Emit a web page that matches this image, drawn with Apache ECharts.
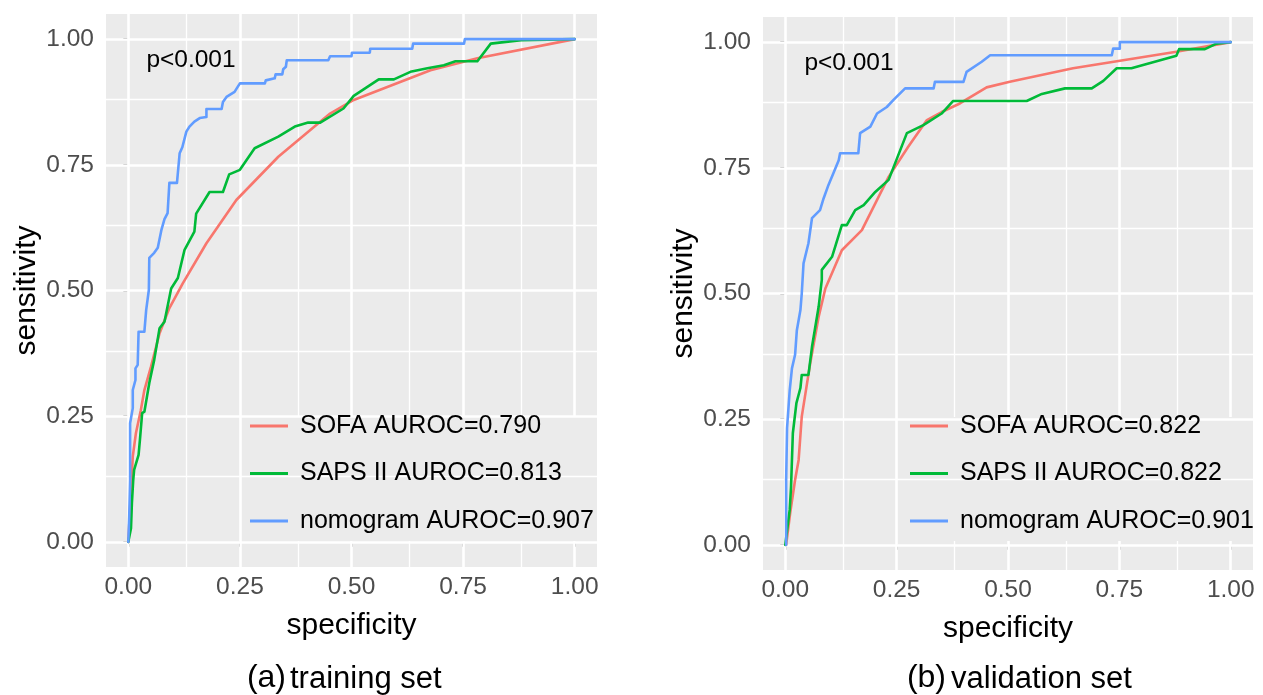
<!DOCTYPE html>
<html>
<head>
<meta charset="utf-8">
<script src="https://cdn.jsdelivr.net/npm/echarts@6/dist/echarts.min.js"></script>
<style>
html,body{margin:0;padding:0;background:#fff;}
#c{width:1263px;height:695px;}
</style>
</head>
<body>
<div id="c"></div>
<script>
// ---------- data ----------
const models = ['SOFA', 'SAPS II', 'nomogram'];
const aurocTrain = ['0.790', '0.813', '0.907'];
const aurocValid = ['0.822', '0.822', '0.901'];
const colors = ['#F8766D', '#00BA38', '#619CFF'];
const tickValues = [0, 0.25, 0.5, 0.75, 1];
const minorValues = [0.125, 0.375, 0.625, 0.875];
const panelCaptions = [['(a)', 'training set'], ['(b)', 'validation set']];
const pText = 'p<0.001';

const sofaTrain = [[0,0],[0.01,0.17],[0.017,0.216],[0.028,0.262],[0.036,0.302],[0.051,0.349],[0.07,0.415],[0.092,0.465],[0.122,0.514],[0.175,0.594],[0.242,0.68],[0.336,0.766],[0.452,0.852],[0.505,0.879],[0.677,0.938],[0.782,0.962],[1,1]];
const sapsTrain = [[0,0],[0.006,0.027],[0.008,0.077],[0.011,0.123],[0.013,0.143],[0.023,0.173],[0.026,0.203],[0.031,0.256],[0.036,0.259],[0.047,0.316],[0.058,0.362],[0.07,0.425],[0.081,0.438],[0.096,0.504],[0.111,0.525],[0.126,0.581],[0.148,0.617],[0.152,0.653],[0.182,0.696],[0.212,0.696],[0.226,0.731],[0.25,0.74],[0.283,0.783],[0.336,0.806],[0.373,0.826],[0.403,0.834],[0.43,0.834],[0.482,0.862],[0.505,0.887],[0.561,0.92],[0.595,0.92],[0.632,0.935],[0.67,0.942],[0.707,0.948],[0.733,0.956],[0.782,0.956],[0.812,0.991],[0.88,0.998],[1,1]];
const nomoTrain = [[0,0],[0.002,0.05],[0.004,0.123],[0.004,0.236],[0.01,0.266],[0.01,0.302],[0.016,0.322],[0.016,0.345],[0.021,0.352],[0.023,0.418],[0.036,0.418],[0.04,0.461],[0.046,0.501],[0.047,0.565],[0.058,0.575],[0.066,0.585],[0.074,0.62],[0.081,0.642],[0.088,0.654],[0.092,0.714],[0.109,0.714],[0.115,0.773],[0.121,0.785],[0.13,0.816],[0.137,0.826],[0.148,0.836],[0.16,0.843],[0.175,0.845],[0.175,0.861],[0.209,0.861],[0.212,0.875],[0.22,0.885],[0.238,0.895],[0.245,0.905],[0.25,0.912],[0.306,0.912],[0.308,0.918],[0.328,0.922],[0.33,0.93],[0.345,0.93],[0.347,0.94],[0.353,0.945],[0.355,0.958],[0.448,0.958],[0.452,0.966],[0.5,0.966],[0.501,0.973],[0.541,0.973],[0.542,0.981],[0.636,0.981],[0.638,0.991],[0.752,0.991],[0.754,1],[1,1]];

const sofaValid = [[0.002,0],[0.011,0.063],[0.022,0.129],[0.03,0.169],[0.037,0.255],[0.056,0.361],[0.075,0.454],[0.09,0.51],[0.127,0.586],[0.172,0.626],[0.232,0.732],[0.276,0.792],[0.318,0.845],[0.351,0.861],[0.392,0.878],[0.452,0.91],[0.504,0.921],[0.646,0.948],[0.878,0.981],[1,1]];
const sapsValid = [[0,0],[0.01,0.07],[0.013,0.116],[0.017,0.222],[0.025,0.282],[0.034,0.312],[0.037,0.338],[0.052,0.338],[0.06,0.394],[0.075,0.474],[0.082,0.527],[0.082,0.547],[0.105,0.573],[0.127,0.636],[0.138,0.636],[0.157,0.666],[0.176,0.676],[0.202,0.702],[0.232,0.726],[0.273,0.819],[0.31,0.835],[0.351,0.858],[0.377,0.883],[0.542,0.883],[0.576,0.897],[0.628,0.908],[0.688,0.908],[0.714,0.923],[0.744,0.948],[0.777,0.948],[0.878,0.973],[0.884,0.986],[0.942,0.986],[0.968,0.997],[1,1]];
const nomoValid = [[0.002,0],[0.002,0.129],[0.004,0.232],[0.01,0.308],[0.015,0.351],[0.022,0.378],[0.026,0.427],[0.034,0.467],[0.037,0.5],[0.041,0.56],[0.052,0.6],[0.06,0.65],[0.078,0.666],[0.086,0.689],[0.097,0.716],[0.108,0.739],[0.12,0.765],[0.123,0.779],[0.164,0.779],[0.168,0.819],[0.191,0.832],[0.206,0.858],[0.228,0.871],[0.243,0.885],[0.269,0.908],[0.333,0.908],[0.336,0.921],[0.4,0.921],[0.407,0.941],[0.441,0.961],[0.46,0.974],[0.733,0.974],[0.736,0.987],[0.751,0.987],[0.751,1],[1,1]];

const trainSets = [sofaTrain, sapsTrain, nomoTrain];
const validSets = [sofaValid, sapsValid, nomoValid];

// ---------- chart ----------
const FONT = '"Liberation Sans", Arial, Helvetica, sans-serif';
const chart = echarts.init(document.getElementById('c'), null, {renderer: 'canvas'});

const grids = [
  {left: 106, top: 14, width: 491, height: 553},
  {left: 763, top: 17, width: 490, height: 553}
];

function xAxisFor(i) {
  return {
    gridIndex: i, type: 'value', min: -0.05, max: 1.05,
    name: 'specificity', nameLocation: 'middle', nameGap: 44,
    nameTextStyle: {color: '#000', fontSize: 30, fontFamily: FONT},
    axisLine: {show: false},
    axisTick: {show: true, customValues: tickValues, length: 5, lineStyle: {color: '#333', width: 1.6}},
    axisLabel: {customValues: tickValues, formatter: v => v.toFixed(2), color: '#4D4D4D', fontSize: 24.5, fontFamily: FONT, margin: 8},
    splitLine: {show: false}
  };
}
function yAxisFor(i) {
  return {
    gridIndex: i, type: 'value', min: -0.05, max: 1.05,
    name: 'sensitivity', nameLocation: 'middle', nameGap: 64,
    nameTextStyle: {color: '#000', fontSize: 30, fontFamily: FONT},
    axisLine: {show: false},
    axisTick: {show: true, customValues: tickValues, length: 5, lineStyle: {color: '#333', width: 1.6}},
    axisLabel: {customValues: tickValues, formatter: v => v.toFixed(2), color: '#4D4D4D', fontSize: 24.5, fontFamily: FONT, margin: 12},
    splitLine: {show: false}
  };
}

// dim: 'xAxis' (vertical lines) or 'yAxis' (horizontal lines)
function gridLineSeries(i, dim, values, width, z) {
  const d = values.map(v => ({[dim]: v}));
  return {
    type: 'line', xAxisIndex: i, yAxisIndex: i, data: [], z: z, silent: true,
    symbol: 'none', lineStyle: {opacity: 0},
    markLine: {silent: true, symbol: 'none', animation: false, z: z,
      label: {show: false}, emphasis: {disabled: true},
      lineStyle: {color: '#FFFFFF', type: 'solid', width: width, opacity: 1}, data: d}
  };
}

const series = [];
[0, 1].forEach(i => {
  series.push(gridLineSeries(i, 'xAxis', minorValues, 1.3, 1));
  series.push(gridLineSeries(i, 'xAxis', tickValues, 2.6, 1));
  series.push(gridLineSeries(i, 'yAxis', minorValues, 1.3, 2));
  series.push(gridLineSeries(i, 'yAxis', tickValues, 2.6, 2));
});
const namesTrain = models.map((m, k) => m + ' AUROC=' + aurocTrain[k]);
const namesValid = models.map((m, k) => m + ' AUROC=' + aurocValid[k]);
[[trainSets, namesTrain, 0], [validSets, namesValid, 1]].forEach(([sets, names, gi]) => {
  sets.forEach((d, k) => {
    series.push({
      type: 'line', name: names[k], xAxisIndex: gi, yAxisIndex: gi, data: d,
      showSymbol: false, symbol: 'none', z: 4, color: colors[k],
      lineStyle: {color: colors[k], width: 2.6, join: 'round', cap: 'round'}, emphasis: {disabled: true}
    });
  });
});

function legendFor(names, left) {
  return {
    data: names, orient: 'vertical', left: left, top: 413.5, z: 3,
    padding: 0,
    icon: 'rect', itemWidth: 38, itemHeight: 3, itemGap: 22.5,
    selectedMode: false,
    textStyle: {color: '#000', fontSize: 25, fontFamily: FONT, lineHeight: 25, padding: [0, 0, 0, 7]}
  };
}

const textStyleBase = {fill: '#000', fontFamily: FONT};
function txt(x, y, text, size, align) {
  return {type: 'text', x: x, y: y, z: 100, zlevel: 0,
    style: Object.assign({text: text, fontSize: size, align: align, verticalAlign: 'middle'}, textStyleBase)};
}
// legend box backgrounds (hide vertical grid lines behind the legends)
function legendBox(x, w) {
  return {type: 'rect', z: 1.5, zlevel: 0, silent: true,
    shape: {x: x, y: 417, width: w, height: 124}, style: {fill: '#EBEBEB'}};
}
const graphics = [
  legendBox(242, 355),
  legendBox(902, 351),
  txt(191, 60, pText, 24.5, 'center'),
  txt(849, 63, pText, 24.5, 'center'),
  txt(286, 678, panelCaptions[0][0], 32, 'right'),
  txt(290, 679, panelCaptions[0][1], 31, 'left'),
  txt(946, 678, panelCaptions[1][0], 32, 'right'),
  txt(951, 679, panelCaptions[1][1], 31, 'left')
];

chart.setOption({
  animation: false,
  backgroundColor: '#FFFFFF',
  grid: grids.map(g => Object.assign({show: true, backgroundColor: '#EBEBEB', borderWidth: 0, containLabel: false}, g)),
  xAxis: [xAxisFor(0), xAxisFor(1)],
  yAxis: [yAxisFor(0), yAxisFor(1)],
  legend: [legendFor(namesTrain, 250), legendFor(namesValid, 910)],
  series: series,
  graphic: graphics
});
</script>
</body>
</html>
